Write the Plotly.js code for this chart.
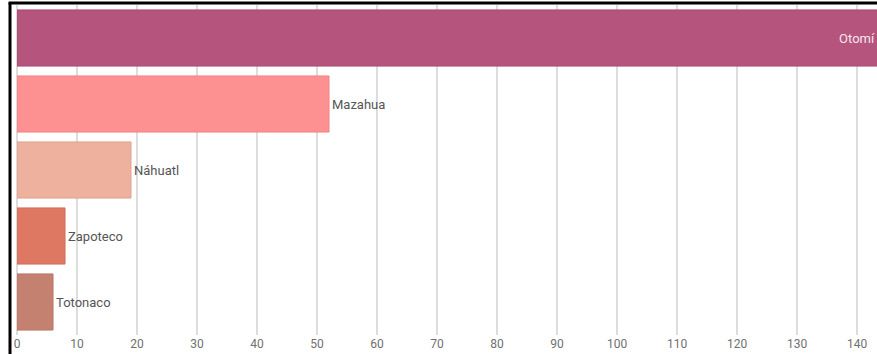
<!DOCTYPE html>
<html>
<head>
<meta charset="utf-8">
<script src="https://cdn.plot.ly/plotly-3.0.1.min.js"></script>
<style>
html,body{margin:0;padding:0;overflow:hidden;background:#fff;width:877px;height:354px;}
#chart{width:917px;height:354px;}
</style>
</head>
<body>
<div id="chart"></div>
<script>
const categories = ["Otomí", "Mazahua", "Náhuatl", "Zapoteco", "Totonaco"];
const values = [143.5, 52, 19, 8, 6];
const colors = ["#B5547C", "#FD9191", "#EDB19D", "#DF7862", "#C5816F"];
const lineColors = ["#A84A71", "#F08383", "#E0A28E", "#D26C57", "#B87563"];
const textPositions = ["inside", "outside", "outside", "outside", "outside"];
const tickValues = [0,10,20,30,40,50,60,70,80,90,100,110,120,130,140,150];

const fontFam = "'Roboto', 'Noto Sans', sans-serif";

const trace = {
  type: "bar",
  orientation: "h",
  y: categories,
  x: values,
  text: categories,
  textposition: textPositions,
  insidetextanchor: "end",
  textangle: 0,
  cliponaxis: false,
  insidetextfont: {color: "#F6E6EE", size: 13, family: fontFam},
  outsidetextfont: {color: "#555555", size: 13, family: fontFam},
  marker: {color: colors, line: {color: lineColors, width: 1}},
  hoverinfo: "none"
};

const layout = {
  width: 917,
  height: 354,
  margin: {l: 17, r: 0, t: 5, b: 19, pad: 0},
  paper_bgcolor: "#ffffff",
  plot_bgcolor: "#ffffff",
  bargap: 0.15,
  showlegend: false,
  font: {family: fontFam, color: "#666666", size: 12},
  xaxis: {
    range: [0, 150],
    tickvals: tickValues,
    showgrid: true,
    gridcolor: "#DDDDDD",
    gridwidth: 1.5,
    zeroline: true,
    zerolinecolor: "#DDDDDD",
    zerolinewidth: 1.5,
    showline: false,
    ticks: "",
    tickfont: {size: 12, color: "#707070", family: fontFam},
    fixedrange: true
  },
  yaxis: {
    autorange: "reversed",
    showticklabels: false,
    showgrid: false,
    zeroline: false,
    ticks: "",
    fixedrange: true
  },
  shapes: [
    {type: "line", xref: "paper", yref: "paper", x0: -7/900, x1: -7/900, y0: 1 + 2/330, y1: -19/330, line: {color: "#000000", width: 3}},
    {type: "line", xref: "paper", yref: "paper", x0: -8.5/900, x1: 1, y0: 1 + 2/330, y1: 1 + 2/330, line: {color: "#000000", width: 3}}
  ]
};

Plotly.newPlot("chart", [trace], layout, {displayModeBar: false, staticPlot: true});
</script>
</body>
</html>
